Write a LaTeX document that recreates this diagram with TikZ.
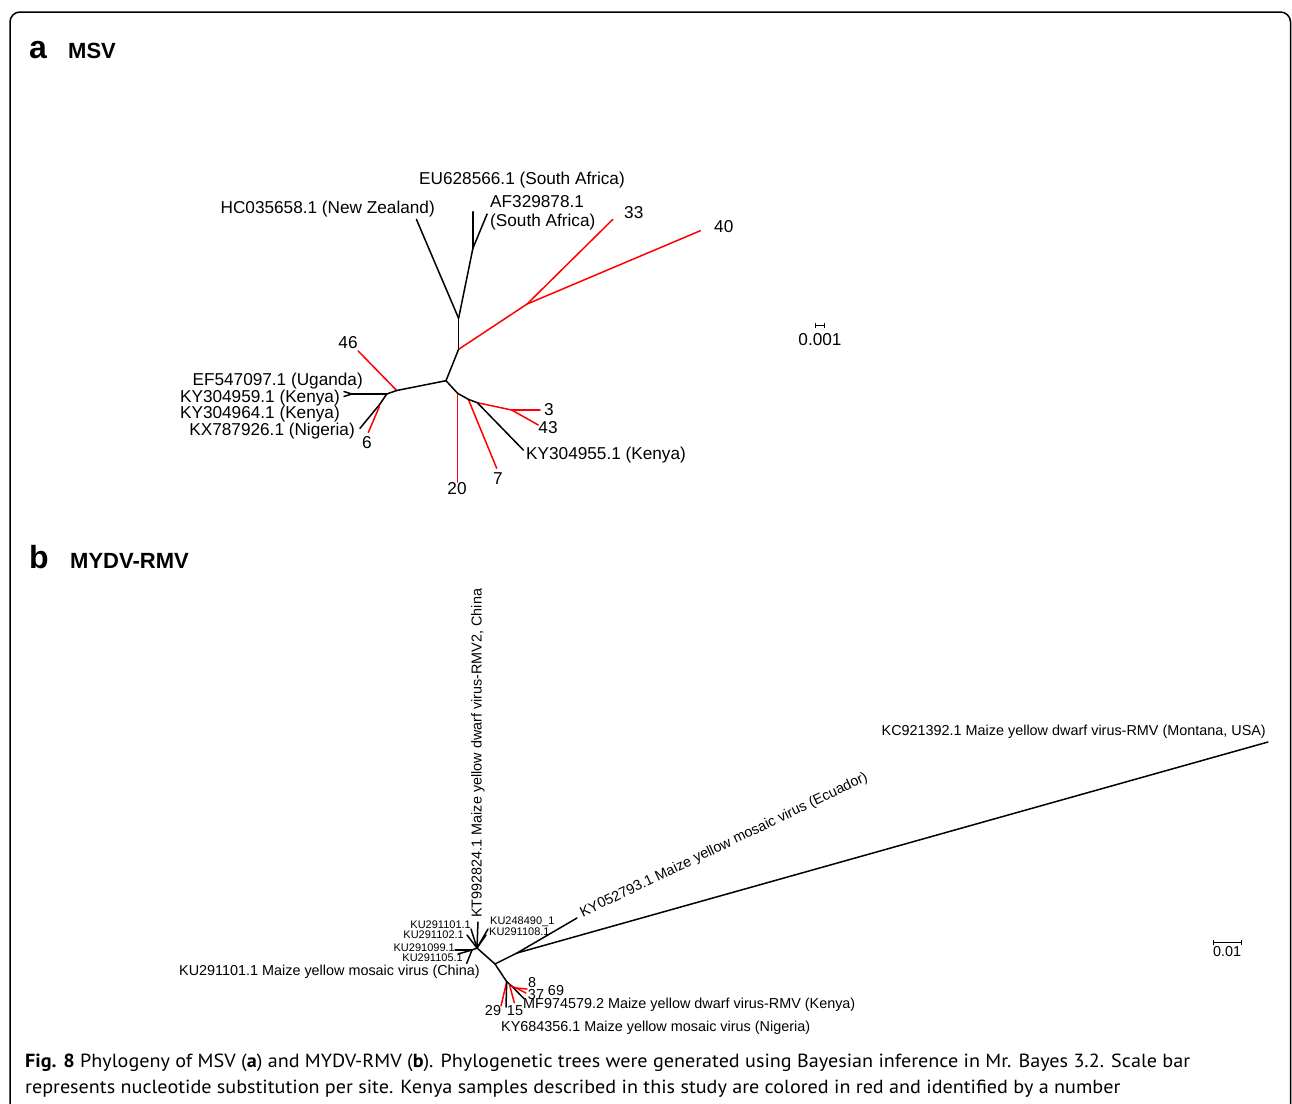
\documentclass[tikz,border=0pt]{standalone}
\usepackage{fontspec}
\setmainfont{Liberation Sans}
\newfontfamily\capfont{PT Sans}
\usepackage{graphicx}
\newsavebox\capboxA
\newsavebox\capboxB
\newlength\capwd
\AtBeginDocument{%
\global\setbox\capboxA=\hbox{\capfont\fontsize{19}{22}\selectfont \textbf{Fig. 8} Phylogeny of MSV (\textbf{a}) and MYDV-RMV (\textbf{b}). Phylogenetic trees were generated using Bayesian inference in Mr. Bayes 3.2. Scale bar}%
\global\setbox\capboxB=\hbox{\capfont\fontsize{19}{22}\selectfont represents nucleotide substitution per site. Kenya samples described in this study are colored in red and identified by a number}%
\global\capwd=\wd\capboxA
}
\begin{document}
\begin{tikzpicture}[x=1pt,y=-1pt,
  br/.style={line width=1.5pt, black, line cap=round},
  rd/.style={line width=1.5pt, red, line cap=round},
  lbA/.style={font=\fontsize{17.2}{20}\selectfont, inner sep=0pt},
  lbB/.style={font=\fontsize{14.4}{17}\selectfont, inner sep=0pt},
  lbS/.style={font=\fontsize{11}{13}\selectfont, inner sep=0pt},
  hdbig/.style={font=\fontsize{32}{36}\selectfont\bfseries, inner sep=0pt, anchor=base west},
  hdsmall/.style={font=\fontsize{22}{26}\selectfont\bfseries, inner sep=0pt, anchor=base west}]
\useasboundingbox (0,0) rectangle (1292,1103);
\clip (0,0) rectangle (1292,1103);
\draw[line width=1.5pt, rounded corners=10pt] (10,1140) -- (10,12) -- (1290.5,12) -- (1290.5,1140);

% headings
\node[hdbig] (ha) at (29,58) {a};
\node[hdsmall] (hmsv) at (68,58) {MSV};
\node[hdbig] (hb) at (29,568) {b};
\node[hdsmall] (hmydv) at (70,568) {MYDV-RMV};

% ---------- panel a tree ----------
\coordinate (A) at (458.6,318.3);
\coordinate (NZ) at (416.4,219.3);
\coordinate (S) at (472.9,248.3);
\coordinate (EU) at (472.9,211.7);
\coordinate (AF) at (487.1,214);
\coordinate (B) at (458.6,349.3);
\coordinate (C) at (527.1,304);
\coordinate (L33) at (612.9,219.3);
\coordinate (L40) at (700.4,230.7);
\coordinate (D) at (446,380.7);
\coordinate (E) at (396.7,390.5);
\coordinate (L46) at (358.2,351);
\coordinate (F) at (386.7,394);
\coordinate (F2) at (351.7,394);
\coordinate (Ug) at (344,391.5);
\coordinate (K59) at (344,396.5);
\coordinate (G) at (380,404);
\coordinate (G2) at (379.3,406.7);
\coordinate (KX) at (360,428.3);
\coordinate (L6) at (368.3,432.5);
\coordinate (T20) at (457.6,393.3);
\coordinate (L20) at (457.6,482);
\coordinate (H) at (468.3,399.3);
\coordinate (L7) at (496.7,468.3);
\coordinate (I) at (477.3,402.7);
\coordinate (J) at (511.7,410);
\coordinate (L3) at (540,410);
\coordinate (L43) at (538.3,425);
\coordinate (K55) at (523.3,450);

\draw[br] (A) -- (NZ);
\draw[br] (A) -- (S);
\draw[br] (S) -- (EU);
\draw[br] (S) -- (AF);
\draw[br] (A) -- (B);
\draw[rd] (B) -- (C);
\draw[rd] (C) -- (L33);
\draw[rd] (C) -- (L40);
\draw[br] (B) -- (D);
\draw[br] (D) -- (E);
\draw[rd] (E) -- (L46);
\draw[br] (E) -- (F);
\draw[br] (F) -- (F2);
\draw[br] (F2) -- (Ug);
\draw[br] (F2) -- (K59);
\draw[br] (F) -- (G);
\draw[br] (G) -- (KX);
\draw[rd] (G2) -- (L6);
\draw[rd, line width=1.7pt] (T20) -- (L20);
\draw[br] (D) -- (T20) -- (H);
\draw[rd] (H) -- (L7);
\draw[br] (H) -- (I);
\draw[rd] (I) -- (J);
\draw[rd] (J) -- (L3);
\draw[rd] (J) -- (L43);
\draw[br] (I) -- (K55);

% panel a labels
\node[lbA] (tEU) at (522,180) {EU628566.1 (South Africa)};
\node[lbA, anchor=east] (tNZ) at (435,209) {HC035658.1 (New Zealand)};
\node[lbA, anchor=west] (tAF1) at (490,202) {AF329878.1};
\node[lbA, anchor=west] (tAF2) at (490,222) {(South Africa)};
\node[lbA, anchor=west] (t33) at (624,213) {33};
\node[lbA, anchor=west] (t40) at (714,227) {40};
\node[lbA] (t46) at (348,343) {46};
\node[lbA, anchor=east] (tUg) at (363,381) {EF547097.1 (Uganda)};
\node[lbA, anchor=east] (tK59) at (340,398) {KY304959.1 (Kenya)};
\node[lbA, anchor=east] (tK64) at (340,414) {KY304964.1 (Kenya)};
\node[lbA, anchor=east] (tKX) at (355,431) {KX787926.1 (Nigeria)};
\node[lbA] (t6) at (367,443) {6};
\node[lbA] (t3) at (549,410) {3};
\node[lbA] (t43) at (548,428) {43};
\node[lbA, anchor=west] (tK55) at (526,455) {KY304955.1 (Kenya)};
\node[lbA] (t7) at (498,479) {7};
\node[lbA] (t20) at (457,489) {20};
% scale bar a
\coordinate (sa1) at (815,325);
\coordinate (sa2) at (824,325);
\draw[line width=1pt] (sa1) -- (sa2);
\draw[line width=1pt] ([yshift=-2.5pt]sa1) -- ([yshift=2.5pt]sa1);
\draw[line width=1pt] ([yshift=-2.5pt]sa2) -- ([yshift=2.5pt]sa2);
\node[lbA] (tsa) at (820,340) {0.001};

% ---------- panel b tree ----------
\coordinate (K) at (477,948);
\coordinate (K1) at (472,950);
\coordinate (k1) at (471,929);
\coordinate (kt) at (478,922);
\coordinate (k2) at (467,935);
\coordinate (k3) at (488,929);
\coordinate (k4) at (486,935);
\coordinate (k5) at (455,950);
\coordinate (k6) at (458,954);
\coordinate (kch) at (466.7,963.3);
\coordinate (Lb) at (495,964);
\coordinate (M) at (517,953);
\coordinate (KYe) at (577,918);
\coordinate (KCm) at (1268,742);
\coordinate (N) at (506.7,981.7);
\coordinate (L29) at (501,1006);
\coordinate (Lky) at (506,1007);
\coordinate (n15) at (509.3,984);
\coordinate (L15) at (514.3,1002.7);
\coordinate (P) at (511.7,986);
\coordinate (Lmf) at (524,998.7);
\coordinate (R) at (516,988);
\coordinate (R1) at (527,989);
\coordinate (R2) at (526,993);

\draw[br] (K) -- (k1);
\draw[br] (K) -- (kt);
\draw[br] (K) -- (k2);
\draw[br] (K) -- (k3);
\draw[br] (K) -- (k4);
\draw[br] (K) -- (K1);
\draw[br] (K1) -- (k5);
\draw[br] (K1) -- (k6);
\draw[br] (K1) -- (kch);
\draw[br] (K) -- (Lb);
\draw[br] (Lb) -- (M);
\draw[br] (M) -- (KYe);
\draw[br] (M) -- (KCm);
\draw[br] (Lb) -- (N);
\draw[rd] (N) -- (L29);
\draw[br] (N) -- (Lky);
\draw[br] (N) -- (P);
\draw[rd] (n15) -- (L15);
\draw[br] (P) -- (Lmf);
\draw[rd] (P) -- (R);
\draw[rd] (R) -- (R1);
\draw[rd] (R) -- (R2);

% panel b labels
\node[lbB, anchor=west, rotate=90] (tKT) at (478,918) {KT992824.1 Maize yellow dwarf virus-RMV2, China};
\node[lbB, anchor=west, rotate=25.6] (tKY) at (581,914) {KY052793.1 Maize yellow mosaic virus (Ecuador)};
\node[lbB, anchor=east] (tKC) at (1266,732) {KC921392.1 Maize yellow dwarf virus-RMV (Montana, USA)};
\node[lbS, anchor=east] (tk1) at (471,925) {KU291101.1};
\node[lbS, anchor=east] (tk2) at (464,935) {KU291102.1};
\node[lbS, anchor=east] (tk5) at (455,947.5) {KU291099.1};
\node[lbS, anchor=east] (tk6) at (463,957.5) {KU291105.1};
\node[lbS, anchor=west] (tk3) at (490,922) {KU248490\_1};
\node[lbS, anchor=west] (tk4) at (489,932) {KU291108.1};
\node[lbB, anchor=east] (tch) at (480,972) {KU291101.1 Maize yellow mosaic virus (China)};
\node[lbB] (t8) at (532,983) {8};
\node[lbB] (t37) at (536,995) {37};
\node[lbB] (t69) at (556,991) {69};
\node[lbB, anchor=west] (tMF) at (523,1005) {MF974579.2 Maize yellow dwarf virus-RMV (Kenya)};
\node[lbB] (t29) at (493,1011) {29};
\node[lbB] (t15) at (515,1011) {15};
\node[lbB, anchor=west] (tKYn) at (501,1028) {KY684356.1 Maize yellow mosaic virus (Nigeria)};
% scale bar b
\coordinate (sb1) at (1213,942);
\coordinate (sb2) at (1241,942);
\draw[line width=1pt] (sb1) -- (sb2);
\draw[line width=1pt] ([yshift=-2.5pt]sb1) -- ([yshift=2.5pt]sb1);
\draw[line width=1pt] ([yshift=-2.5pt]sb2) -- ([yshift=2.5pt]sb2);
\node[lbB] (tsb) at (1227,952) {0.01};

% caption
\pgfmathsetmacro\capsx{1165/\capwd}
\node[anchor=base west, inner sep=0pt] (cap1) at (25,1067) {\scalebox{\capsx}[1]{\usebox\capboxA}};
\node[anchor=base west, inner sep=0pt] (cap2) at (25,1093) {\scalebox{\capsx}[1]{\usebox\capboxB}};
\end{tikzpicture}
\end{document}
